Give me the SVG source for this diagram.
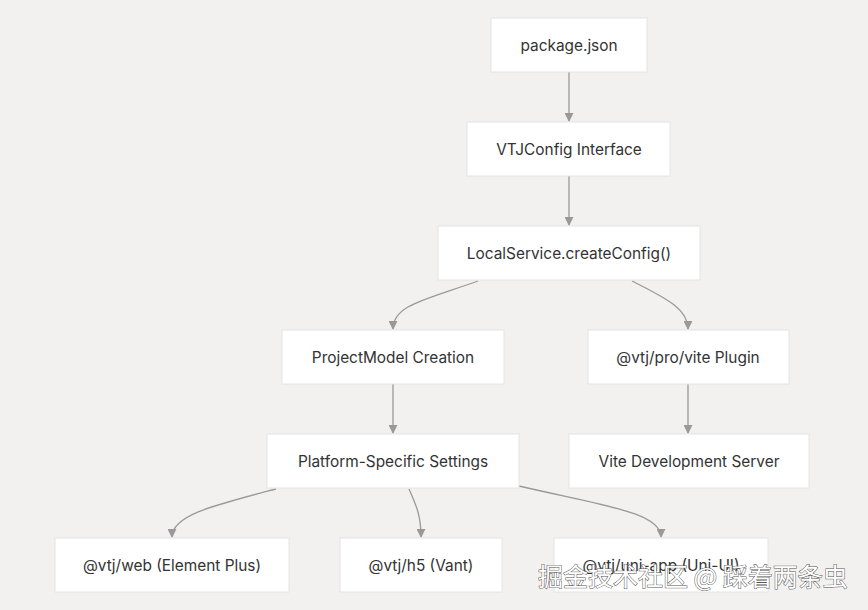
<svg xmlns="http://www.w3.org/2000/svg" width="868" height="610" viewBox="0 0 868 610">
<style>
.n rect{fill:#fff;stroke:#e4e4e4;stroke-width:1}
.n text{font-family:Inter,"Liberation Sans",sans-serif;font-size:15.4px;fill:#333;text-anchor:middle;dominant-baseline:central}
.e path{fill:none;stroke:#999;stroke-width:1.3}
.wm{font-family:"Noto Sans CJK SC",sans-serif;font-size:25px;fill:#fff;stroke:#555;stroke-width:1;paint-order:stroke}
</style>
<defs>
<marker id="a" viewBox="0 0 10 10" refX="9" refY="5" markerWidth="9" markerHeight="9" markerUnits="userSpaceOnUse" orient="auto">
<path d="M0,0L10,5L0,10z" fill="#999"/>
</marker>
</defs>
<rect width="868" height="610" fill="#f2f1f0"/>
<g class="e">
<path d="M569,72V121" marker-end="url(#a)"/>
<path d="M569,176V225" marker-end="url(#a)"/>
<path d="M478,281C425,300 393,305 393,329" marker-end="url(#a)"/>
<path d="M632,281C670,300 688,310 688,329" marker-end="url(#a)"/>
<path d="M393,384V433" marker-end="url(#a)"/>
<path d="M688,384V433" marker-end="url(#a)"/>
<path d="M276,489C215,505 172,515 172,537" marker-end="url(#a)"/>
<path d="M409,489C416,505 421,515 421,537" marker-end="url(#a)"/>
<path d="M519,486C600,505 661,512 661,537" marker-end="url(#a)"/>
</g>
<g id="pkg" class="n"><rect x="491" y="18" width="156" height="54"/><text x="569" y="45">package.json</text></g>
<g id="vtjc" class="n"><rect x="467" y="122" width="203" height="54"/><text x="569" y="149">VTJConfig Interface</text></g>
<g id="ls" class="n"><rect x="438" y="226" width="262" height="54"/><text x="569" y="253">LocalService.createConfig()</text></g>
<g id="pm" class="n"><rect x="282" y="330" width="222" height="54"/><text x="393" y="357">ProjectModel Creation</text></g>
<g id="vp" class="n"><rect x="588" y="330" width="201" height="54"/><text x="688" y="357">@vtj/pro/vite Plugin</text></g>
<g id="ps" class="n"><rect x="267" y="434" width="252" height="54"/><text x="393" y="461">Platform-Specific Settings</text></g>
<g id="vds" class="n"><rect x="569" y="434" width="240" height="54"/><text x="689" y="461">Vite Development Server</text></g>
<g id="web" class="n"><rect x="55" y="538" width="234" height="54"/><text x="172" y="565">@vtj/web (Element Plus)</text></g>
<g id="h5" class="n"><rect x="340" y="538" width="162" height="54"/><text x="421" y="565">@vtj/h5 (Vant)</text></g>
<g id="uni" class="n"><rect x="554" y="538" width="214" height="54"/><text x="661" y="565">@vtj/uni-app (Uni-UI)</text></g>
<text class="wm" x="538" y="586">掘金技术社区 @ 踩着两条虫</text>
</svg>
